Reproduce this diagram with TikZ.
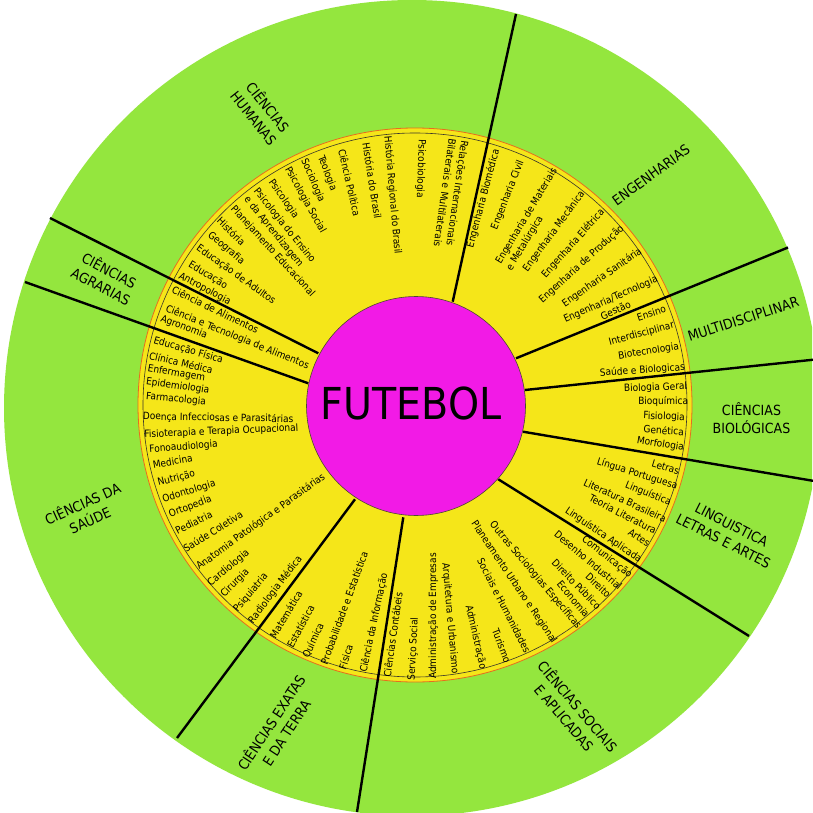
\documentclass[tikz,border=0pt]{standalone}
\usepackage{fontspec}
\setmainfont{DejaVu Sans}[FakeStretch=0.9]
\definecolor{areagreen}{RGB}{148,230,62}
\definecolor{ringyellow}{RGB}{245,230,25}
\definecolor{ringedge}{RGB}{230,110,30}
\definecolor{hubpink}{RGB}{242,26,230}
\tikzset{
  inl/.style={anchor=west, inner sep=1pt, font=\fontsize{10}{12.5}\selectfont},
  outl/.style={anchor=east, inner sep=1pt, font=\fontsize{10}{12.5}\selectfont},
  area/.style={align=center, font=\fontsize{14}{18}\selectfont},
  divider/.style={line width=2.4pt}
}
\begin{document}
\begin{tikzpicture}[x=1pt,y=-1pt]
\useasboundingbox (0,0) rectangle (812,813);
\fill[white] (0,0) rectangle (812,813);
\begin{scope}
  \clip (0,0) rectangle (812,813);
  \fill[areagreen] (412,408) circle (408pt);
\end{scope}
\filldraw[fill=ringyellow, draw=ringedge, line width=0.8pt] (415,405) circle (277pt);
\draw[line width=0.6pt, black!80!olive] (415,405) circle (272pt);

% dividers
\coordinate (i1) at (452.7,301.7); \coordinate (o1) at (516,14);
\coordinate (i2) at (516,358.3);   \coordinate (o2) at (788,247.5);
\coordinate (i3) at (525,390);     \coordinate (o3) at (820,359);
\coordinate (i4) at (523,431.7);   \coordinate (o4) at (813,480.8);
\coordinate (i5) at (498.3,479.3); \coordinate (o5) at (749,636);
\coordinate (i6) at (403.3,517.3); \coordinate (o6) at (357,812);
\coordinate (i7) at (355,499.3);   \coordinate (o7) at (177,738);
\coordinate (i8) at (308.3,383.3); \coordinate (o8) at (25,282);
\coordinate (i9) at (318.3,353.3); \coordinate (o9) at (50,218);
\draw[divider] (i1) -- (o1);
\draw[divider] (i2) -- (o2);
\draw[divider] (i3) -- (o3);
\draw[divider] (i4) -- (o4);
\draw[divider] (i5) -- (o5);
\draw[divider] (i6) -- (o6);
\draw[divider] (i7) -- (o7);
\draw[divider] (i8) -- (o8);
\draw[divider] (i9) -- (o9);

\filldraw[fill=hubpink, draw=black!60!olive, line width=0.6pt] (416,406) circle (109.5pt);
\node[font=\fontsize{44}{50}\selectfont, inner sep=0pt] (hub) at (411,403.5) {FUTEBOL};

% areas
\node[area, rotate=-51.5] (hum) at (261.5,112) {CIÊNCIAS\\HUMANAS};
\node[area, rotate=36] (eng) at (651,175) {ENGENHARIAS};
\node[area, rotate=18] (mul) at (743.3,319) {MULTIDISCIPLINAR};
\node[area] (bio) at (751.5,418.5) {CIÊNCIAS\\BIOLÓGICAS};
\node[area, rotate=-27] (let) at (727.5,533) {LINGUISTICA\\LETRAS E ARTES};
\node[area, rotate=-49.6] (soc) at (571.5,711.5) {CIÊNCIAS SOCIAIS\\E APLICADAS};
\node[area, rotate=56.7] (exa) at (278,727) {CIÊNCIAS EXATAS\\E DA TERRA};
\node[area, rotate=24.2] (sau) at (86,511) {CIÊNCIAS DA\\SAÚDE};
\node[area, rotate=-28] (agr) at (105.5,277.7) {CIÊNCIAS\\AGRARIAS};

% humanas
\node[inl, rotate=-92] (h1) at (421.7,138.3) {Psicobiologia};
\node[inl, rotate=-98, align=left] (h2) at (459,138.5) {Relações Internacionais\\Bilaterais e Multilaterais};
\node[inl, rotate=-85] (h3) at (387.3,135) {História Regional do Brasil};
\node[inl, rotate=-81] (h4) at (366,141.7) {História do Brasil};
\node[inl, rotate=-77] (h5) at (341.7,148.3) {Ciência Política};
\node[inl, rotate=-69] (h6) at (320,155) {Teologia};
\node[inl, rotate=-67] (h7) at (303.3,158.3) {Sociologia};
\node[inl, rotate=-61] (h8) at (286.7,166.7) {Psicologia Social};
\node[inl, rotate=-55] (h9) at (270,180) {Psicologia};
\node[inl, rotate=-51, align=left] (h10) at (250,193) {Psicologia do Ensino\\e da Aprendizagem};
\node[inl, rotate=-47.5] (h11) at (231.7,206.7) {Planejamento Educacional};
\node[inl, rotate=-45] (h12) at (218.3,218.3) {História};
\node[inl, rotate=-40] (h13) at (208.3,233.3) {Geografia};
\node[inl, rotate=-35.5] (h14) at (196.7,246.7) {Educação de Adultos};
\node[inl, rotate=-31] (h15) at (188.3,263.3) {Educação};
\node[inl, rotate=-28] (h16) at (178.3,275) {Antropologia};

% agrarias
\node[inl, rotate=-26] (a1) at (171.7,288.3) {Ciência de Alimentos};
\node[inl, rotate=-22] (a2) at (165,308.3) {Ciência e Tecnologia de Alimentos};
\node[inl, rotate=-21] (a3) at (160,318.3) {Agronomia};

% saude
\node[inl, rotate=-16] (s1) at (152.7,340) {Educação Física};
\node[inl, rotate=-13] (s2) at (148.3,355) {Clínica Médica};
\node[inl, rotate=-10] (s3) at (146.7,368.3) {Enfermagem};
\node[inl, rotate=-8] (s4) at (145,381.7) {Epidemiologia};
\node[inl, rotate=-5] (s5) at (145,396.7) {Farmacologia};
\node[inl, rotate=-1] (s6) at (141.7,416.7) {Doença Infecciosas e Parasitárias};
\node[inl, rotate=2.5] (s7) at (143.3,435) {Fisioterapia e Terapia Ocupacional};
\node[inl, rotate=4.5] (s8) at (148.3,450) {Fonoaudiologia};
\node[inl, rotate=10] (s9) at (151.7,465) {Medicina};
\node[inl, rotate=14] (s10) at (156.7,483.3) {Nutrição};
\node[inl, rotate=17] (s11) at (161.7,500) {Odontologia};
\node[inl, rotate=21] (s12) at (168.3,515) {Ortopedia};
\node[inl, rotate=26.5] (s13) at (175,531.7) {Pediatria};
\node[inl, rotate=32] (s14) at (183.3,550) {Saúde Coletiva};
\node[inl, rotate=36] (s15) at (196.7,568.3) {Anatomia Patológica e Parasitárias};
\node[inl, rotate=40] (s16) at (208.3,585) {Cardiologia};
\node[inl, rotate=45] (s17) at (221.7,596.7) {Cirurgia};
\node[inl, rotate=50] (s18) at (235,611.7) {Psiquiatria};
\node[inl, rotate=53] (s19) at (250,623.3) {Radiologia Médica};

% exatas
\node[inl, rotate=59] (e1) at (271.7,638.3) {Matemática};
\node[inl, rotate=62] (e2) at (289,648) {Estatística};
\node[inl, rotate=65] (e3) at (305,658.3) {Química};
\node[inl, rotate=70] (e4) at (323.3,665) {Probabilidade e Estatística};
\node[inl, rotate=73] (e5) at (341.7,670) {Física};
\node[inl, rotate=78] (e6) at (363.3,673.3) {Ciência da Informação};

% sociais
\node[inl, rotate=82] (c1) at (386.7,678.3) {Ciências Contábeis};
\node[inl, rotate=87] (c2) at (411.7,681.7) {Serviço Social};
\node[inl, rotate=90] (c3) at (433.3,680) {Administração de Empresas};
\node[outl, rotate=-85] (c4) at (455,675) {Arquitetura e Urbanismo};
\node[outl, rotate=-77] (c5) at (483.3,670) {Administração};
\node[outl, rotate=-69] (c6) at (508.3,663.3) {Turismo};
\node[outl, rotate=-63] (c7) at (528.3,653.3) {Sociais e Humanidades};
\node[outl, rotate=-56] (c8) at (555,643.3) {Planeamento Urbano e Regional};
\node[outl, rotate=-50] (c9) at (580,628.3) {Outras Sociologias Específicas};
\node[outl, rotate=-50] (c10) at (588.3,616.7) {Economia};
\node[outl, rotate=-46] (c11) at (600,608.3) {Direito Público};
\node[outl, rotate=-43.5] (c12) at (610,596.7) {Direito};
\node[outl, rotate=-40] (c13) at (621.7,588.3) {Desenho Industrial};
\node[outl, rotate=-38.5] (c14) at (631.7,576.7) {Comunicação};

% linguistica
\node[outl, rotate=-34] (l1) at (641.7,561) {Linguística Aplicada};
\node[outl, rotate=-33] (l2) at (650,545) {Artes};
\node[outl, rotate=-27.5] (l3) at (656.7,531.7) {Teoria Literatura};
\node[outl, rotate=-25] (l4) at (666.7,520) {Literatura Brasileira};
\node[outl, rotate=-22] (l5) at (671.7,503.3) {Linguística};
\node[outl, rotate=-17.3] (l6) at (678.3,486.7) {Língua Portuguesa};
\node[outl, rotate=-17] (l7) at (680,471.7) {Letras};

% biologicas
\node[outl, rotate=-9] (b1) at (685,448.3) {Morfologia};
\node[outl, rotate=-4] (b2) at (685,431.7) {Genética};
\node[outl, rotate=-2] (b3) at (686,417.7) {Fisiologia};
\node[outl] (b4) at (689.3,401.7) {Bioquímica};
\node[outl, rotate=2] (b5) at (688.3,386.7) {Biologia Geral};

% multidisciplinar
\node[outl, rotate=4] (m1) at (686,367.3) {Saúde e Biologicas};
\node[outl, rotate=9] (m2) at (680,346.7) {Biotecnologia};
\node[outl, rotate=15] (m3) at (675,325) {Interdisciplinar};
\node[outl, rotate=18] (m4) at (666.7,308.3) {Ensino};

% engenharias
\node[outl, anchor=center, align=center, rotate=24] (g1) at (613,304.5) {Engenharia/Tecnologia\\Gestão};
\node[outl, rotate=35] (g2) at (641.7,250) {Engenharia Sanitária};
\node[outl, rotate=42] (g3) at (623.3,226.7) {Engenharia de Produção};
\node[outl, rotate=48] (g4) at (603.3,210) {Engenharia Elétrica};
\node[outl, rotate=53.5] (g5) at (583.3,191.7) {Engenharia Mecânica};
\node[inl, rotate=59, align=left] (g6) at (503.3,267.5) {Engenharia de Materiais\\e Metalúrgica};
\node[outl, rotate=68.5] (g7) at (521.7,160) {Engenharia Civil};
\node[outl, rotate=75] (g8) at (496.7,148.3) {Engenharia Biomédica};
\end{tikzpicture}
\end{document}
